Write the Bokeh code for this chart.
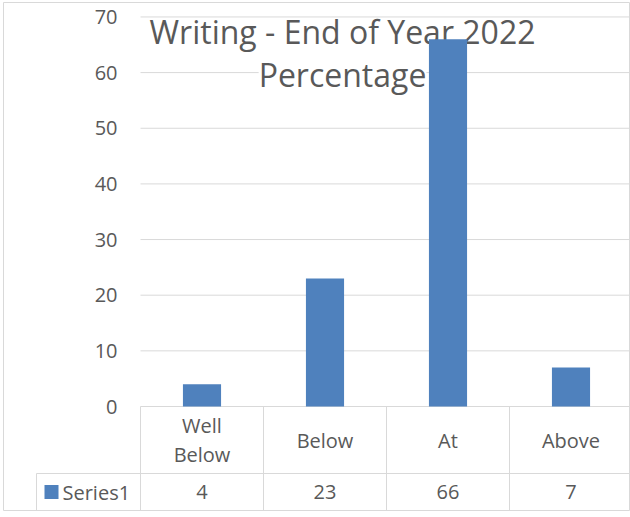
from bokeh.plotting import figure
from bokeh.models import FixedTicker
from bokeh.core.properties import value
from bokeh.embed import file_html
from bokeh.resources import INLINE

# ---- data ----
categories = ["Well Below", "Below", "At", "Above"]
series_name = "Series1"
values = [4, 23, 66, 7]
y_ticks = [0, 10, 20, 30, 40, 50, 60, 70]
title_lines = ["Writing - End of Year 2022", "Percentage"]

# ---- layout constants (pixels) ----
W, H = 630, 517
FL, FR, FT, FB = 3, 630, 2, 510      # frame edges (outer chart border)
OX, OY = 140, 406                     # pixel position of plot-area origin
CAT_PX = 123                          # width of one category band
UNIT_PX = 55.65 / 10                  # pixels per y unit
ROW_PX = 473                          # boundary between table rows
TABLE_LEFT_PX = 36
TEXT = "#595959"
LINE = "#d9d9d9"
BLUE = "#4F81BD"
FONT = "Open Sans"


def xd(px):
    return (px - OX) / CAT_PX


def yd(px):
    return (OY - px) / UNIT_PX


p = figure(width=W, height=H,
           x_range=(xd(FL), xd(FR)), y_range=(yd(FB), yd(FT)),
           output_backend="svg", toolbar_location=None,
           x_axis_location=None, y_axis_location="left",
           min_border_left=FL, min_border_right=W - FR,
           min_border_top=FT, min_border_bottom=H - FB)
p.grid.visible = False
p.outline_line_color = LINE
p.outline_line_width = 1
p.background_fill_color = "white"
p.border_fill_color = "white"

# y axis (labels only)
ya = p.yaxis[0]
ya.ticker = FixedTicker(ticks=y_ticks)
ya.axis_line_color = None
ya.major_tick_line_color = None
ya.minor_tick_line_color = None
ya.major_tick_out = 0
ya.major_tick_in = 0
ya.major_label_text_font = FONT
ya.major_label_text_font_size = "20px"
ya.major_label_text_color = TEXT
ya.major_label_standoff = -(117 - FL)

n = len(categories)
x_end = xd(FR)

# gridlines (incl. zero line = table top)
p.segment(x0=[0] * len(y_ticks), x1=[x_end] * len(y_ticks),
          y0=y_ticks, y1=y_ticks, line_color=LINE, line_width=1)

# table lines
p.segment(x0=[xd(TABLE_LEFT_PX)], x1=[x_end], y0=[yd(ROW_PX)], y1=[yd(ROW_PX)],
          line_color=LINE, line_width=1)
p.segment(x0=list(range(n)), x1=list(range(n)),
          y0=[0] * n, y1=[yd(FB)] * n, line_color=LINE, line_width=1)
p.segment(x0=[xd(TABLE_LEFT_PX)], x1=[xd(TABLE_LEFT_PX)],
          y0=[yd(ROW_PX)], y1=[yd(FB)], line_color=LINE, line_width=1)

# title
p.text(x=[xd(342)], y=[yd(74)], text=[title_lines[1]],
       text_font=value(FONT), text_font_size="32px", text_color=TEXT,
       text_align="center", text_baseline="alphabetic",
       background_fill_color="white")
p.text(x=[xd(342)], y=[yd(31)], text=[title_lines[0]],
       text_font=value(FONT), text_font_size="32px", text_color=TEXT,
       text_align="center", text_baseline="alphabetic")

# bars
centers = [i + 0.5 for i in range(n)]
p.vbar(x=centers, top=values, width=0.31, bottom=0,
       fill_color=BLUE, line_color=None)

# table header labels
p.text(x=centers, y=[yd((OY + ROW_PX) / 2)] * n,
       text=[c.replace(" ", "\n") for c in categories],
       text_font=value(FONT), text_font_size="20px", text_color=TEXT,
       text_align="center", text_baseline="middle", text_line_height=1.05)

# table values row
p.text(x=centers, y=[yd((ROW_PX + FB) / 2)] * n,
       text=[str(v) for v in values],
       text_font=value(FONT), text_font_size="20px", text_color=TEXT,
       text_align="center", text_baseline="middle")

# legend key + series name
p.scatter(x=[xd(51)], y=[yd((ROW_PX + FB) / 2)], marker="square", size=14,
          fill_color=BLUE, line_color=None)
p.text(x=[xd(62)], y=[yd((ROW_PX + FB) / 2)], text=[series_name],
       text_font=value(FONT), text_font_size="20px", text_color=TEXT,
       text_align="left", text_baseline="middle")

open("out.html", "w").write(file_html(p, INLINE))
